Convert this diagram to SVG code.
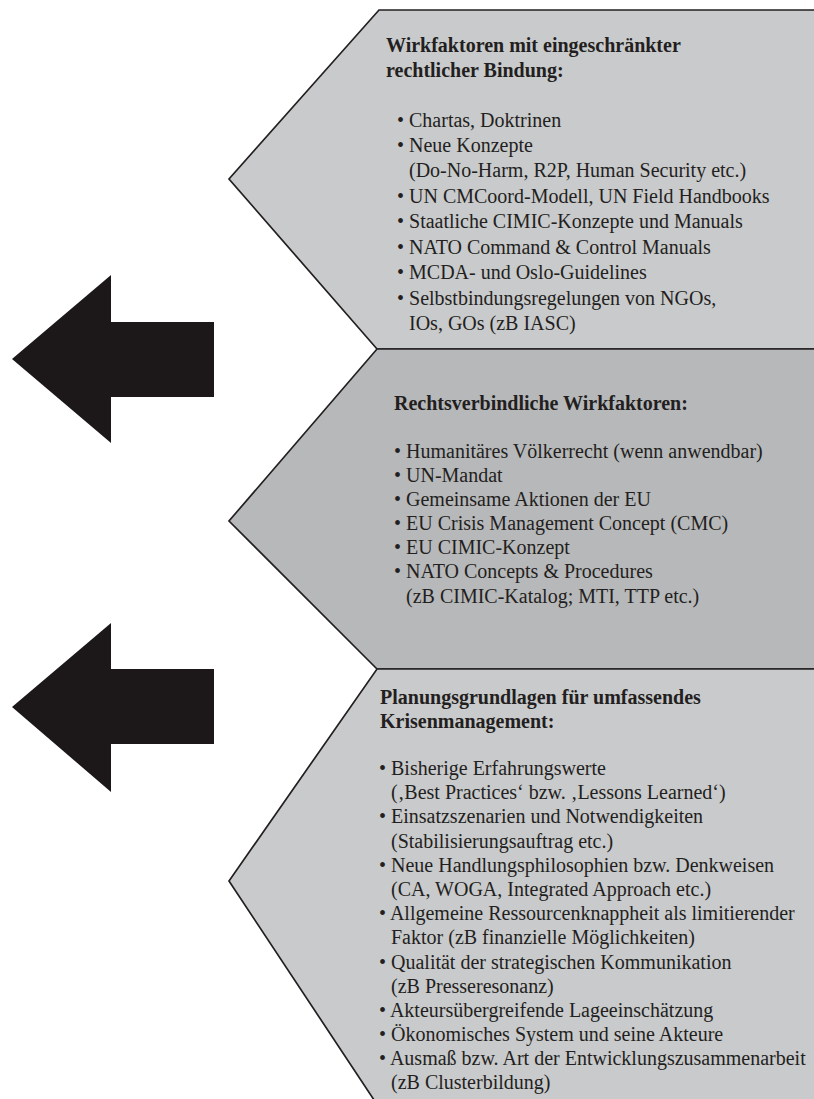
<svg xmlns="http://www.w3.org/2000/svg" width="814" height="1099" viewBox="0 0 814 1099">
<style>
.shape{stroke:#231f20;stroke-width:1.7;stroke-linejoin:miter}
.light{fill:#c9cacc}
.dark{fill:#b7b8ba}
.arrow{fill:#1c181a}
text{font-family:"Liberation Serif","Times New Roman",serif;font-size:20px;fill:#231f20}
.h{font-weight:bold}
</style>
<rect width="814" height="1099" fill="#ffffff"/>
<g id="connectors">
<polygon class="arrow" points="12,359 111,275 111,322 214,322 214,397 111,397 111,443"/>
<polygon class="arrow" points="12,707 111,623 111,669 214,669 214,744 111,744 111,792"/>
</g>
<g id="node-1">
<polygon class="shape light" points="379,10 820,10 820,349 377,349 229,179"/>
<text class="h" x="386" y="52">Wirkfaktoren mit eingeschränkter</text>
<text class="h" x="386" y="77">rechtlicher Bindung:</text>
<text x="397" y="127">• Chartas, Doktrinen</text>
<text x="397" y="152">• Neue Konzepte</text>
<text x="409" y="177">(Do-No-Harm, R2P, Human Security etc.)</text>
<text x="397" y="203">• UN CMCoord-Modell, UN Field Handbooks</text>
<text x="397" y="228">• Staatliche CIMIC-Konzepte und Manuals</text>
<text x="397" y="254">• NATO Command &amp; Control Manuals</text>
<text x="397" y="279">• MCDA- und Oslo-Guidelines</text>
<text x="397" y="305">• Selbstbindungsregelungen von NGOs,</text>
<text x="409" y="330">IOs, GOs (zB IASC)</text>
</g>
<g id="node-2">
<polygon class="shape dark" points="377,349 820,349 820,669 377,669 229,521"/>
<text class="h" x="394" y="410">Rechtsverbindliche Wirkfaktoren:</text>
<text x="394" y="458">• Humanitäres Völkerrecht (wenn anwendbar)</text>
<text x="394" y="482">• UN-Mandat</text>
<text x="394" y="506">• Gemeinsame Aktionen der EU</text>
<text x="394" y="530">• EU Crisis Management Concept (CMC)</text>
<text x="394" y="554">• EU CIMIC-Konzept</text>
<text x="394" y="578">• NATO Concepts &amp; Procedures</text>
<text x="406" y="603">(zB CIMIC-Katalog; MTI, TTP etc.)</text>
</g>
<g id="node-3">
<polygon class="shape light" points="377,669 820,669 820,1112 382,1112 229,881"/>
<text class="h" x="380" y="704">Planungsgrundlagen für umfassendes</text>
<text class="h" x="380" y="728">Krisenmanagement:</text>
<text x="379" y="775">• Bisherige Erfahrungswerte</text>
<text x="391" y="799">(‚Best Practices‘ bzw. ‚Lessons Learned‘)</text>
<text x="379" y="823">• Einsatzszenarien und Notwendigkeiten</text>
<text x="391" y="848">(Stabilisierungsauftrag etc.)</text>
<text x="379" y="872">• Neue Handlungsphilosophien bzw. Denkweisen</text>
<text x="391" y="896">(CA, WOGA, Integrated Approach etc.)</text>
<text x="379" y="920">• Allgemeine Ressourcenknappheit als limitierender</text>
<text x="391" y="944">Faktor (zB finanzielle Möglichkeiten)</text>
<text x="379" y="969">• Qualität der strategischen Kommunikation</text>
<text x="391" y="993">(zB Presseresonanz)</text>
<text x="379" y="1017">• Akteursübergreifende Lageeinschätzung</text>
<text x="379" y="1041">• Ökonomisches System und seine Akteure</text>
<text x="379" y="1065">• Ausmaß bzw. Art der Entwicklungszusammenarbeit</text>
<text x="391" y="1089">(zB Clusterbildung)</text>
</g>
</svg>
